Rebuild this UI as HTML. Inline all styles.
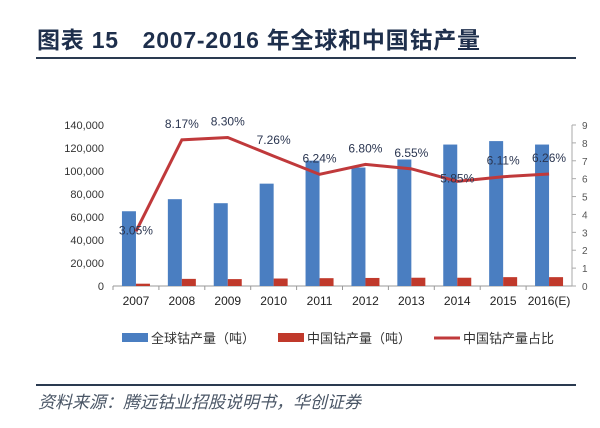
<!DOCTYPE html>
<html><head><meta charset="utf-8"><style>
body{margin:0;background:#fff;}
svg text{font-family:"Liberation Sans","Noto Sans CJK SC",sans-serif;}
</style></head><body>
<svg width="600" height="423" viewBox="0 0 600 423">
<text x="37" y="48" font-size="23" font-weight="bold" fill="#1e2f4c" textLength="443">图表 15　2007-2016 年全球和中国钴产量</text>
<rect x="36" y="57" width="540" height="2" fill="#2a3a50"/>
<g id="plot"></g>
<rect x="36" y="384" width="540" height="2" fill="#2a3a50"/>
<text x="38" y="408" font-size="17" font-style="italic" fill="#4a5666">资料来源：腾远钴业招股说明书，华创证券</text>
</svg>
<script>
const categories=["2007","2008","2009","2010","2011","2012","2013","2014","2015","2016(E)"];
const globalOutput=[65000,75500,72000,89000,109000,103000,110000,123000,126000,123000];
const chinaOutput=[2000,6200,6000,6500,6800,7000,7200,7200,7700,7700];
const chinaShare=[3.05,8.17,8.30,7.26,6.24,6.80,6.55,5.85,6.11,6.26];
const leftTicks=[0,20000,40000,60000,80000,100000,120000,140000];
const rightTicks=[0,1,2,3,4,5,6,7,8,9];
const NS="http://www.w3.org/2000/svg";
const g=document.getElementById('plot');
const X0=113,X1=572,Y0=286,Y1=125;
const bw=(X1-X0)/categories.length;
const xc=i=>X0+bw*(i+0.5);
const yL=v=>Y0-(v/140000)*(Y0-Y1);
const yR=v=>Y0-(v/9)*(Y0-Y1);
function el(t,a,txt){const e=document.createElementNS(NS,t);for(const k in a)e.setAttribute(k,a[k]);if(txt!=null)e.textContent=txt;g.appendChild(e);return e;}
const fmt=v=>v.toLocaleString('en-US');
let e;
e=el('line',{x1:X0,y1:Y0,x2:X1,y2:Y0,stroke:'#999','stroke-width':1});

e=el('line',{x1:X1,y1:Y1,x2:X1,y2:Y0,stroke:'#aaa','stroke-width':1});

leftTicks.forEach(v=>{
 e=el('text',{x:104,y:yL(v)+4,'font-size':11,'text-anchor':'end',fill:'#333'},fmt(v));
 
});
rightTicks.forEach(v=>{
 e=el('line',{x1:X1,y1:yR(v),x2:X1+4,y2:yR(v),stroke:'#aaa'});
 
 e=el('text',{x:X1+10,y:yR(v)+4,'font-size':10,fill:'#555'},String(v));
 
});
categories.forEach((c,i)=>{
 e=el('line',{x1:X0+bw*i,y1:Y0,x2:X0+bw*i,y2:Y0+4,stroke:'#999'});
 
 e=el('text',{x:xc(i),y:Y0+19,'font-size':12,'text-anchor':'middle',fill:'#222','font-family':'Liberation Serif,serif'},c);
 
 e=el('rect',{x:xc(i)-14,y:yL(globalOutput[i]),width:14,height:Y0-yL(globalOutput[i]),fill:'#4a7ec1'});
 
 e=el('rect',{x:xc(i),y:yL(chinaOutput[i]),width:14,height:Y0-yL(chinaOutput[i]),fill:'#c0392b'});
 
});
e=el('polyline',{points:chinaShare.map((v,i)=>xc(i)+','+yR(v)).join(' '),fill:'none',stroke:'#c0393b','stroke-width':3});

chinaShare.forEach((v,i)=>{
 e=el('text',{x:xc(i),y:yR(v)-(i==0?-3:i==7?-1:12),'font-size':12,'text-anchor':'middle',fill:'#2a3550'},v.toFixed(2)+'%');
 
});
const leg=[[122,'#4a7ec1','全球钴产量（吨）','rect'],[278,'#c0392b','中国钴产量（吨）','rect'],[434,'#c0393b','中国钴产量占比','line']];
leg.forEach(l=>{
 if(l[3]=='rect'){e=el('rect',{x:l[0],y:333,width:26,height:9,fill:l[1]});}
 else{e=el('line',{x1:l[0],y1:338,x2:l[0]+26,y2:338,stroke:l[1],'stroke-width':3});}
 
 e=el('text',{x:l[0]+29,y:343,'font-size':13,fill:'#333'},l[2]);
 
});
</script>
</body></html>
